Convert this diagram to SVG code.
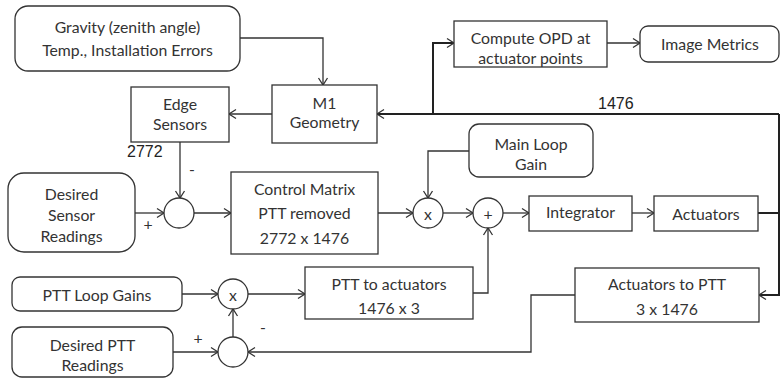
<svg xmlns="http://www.w3.org/2000/svg" width="781" height="379" viewBox="0 0 781 379">
<style>
  .box{fill:#fff;stroke:#333;stroke-width:1.3}
  .t{font-family:Lato,"Liberation Sans",sans-serif;font-size:15.8px;fill:#333;text-anchor:middle;dominant-baseline:central}
  .n{font-family:"Liberation Sans",Arial,sans-serif;font-size:16px;fill:#222}
  .c{fill:none;stroke:#333;stroke-width:1.3;marker-end:url(#a)}
  .ct{fill:none;stroke:#222;stroke-width:2}
  .ctA{fill:none;stroke:#222;stroke-width:2;marker-end:url(#a)}
</style>
<defs>
  <marker id="a" markerUnits="userSpaceOnUse" markerWidth="12" markerHeight="12" refX="9" refY="6" orient="auto">
    <path d="M2,1.5 L9,6 L2,10.5" fill="none" stroke="#333" stroke-width="1.3"/>
  </marker>
</defs>
<rect width="781" height="379" fill="#fff"/>

<g id="connectors">
  <path class="c" d="M240,38 H323 V85"/>
  <path class="c" d="M272,114 H229"/>
  <path class="ct" d="M758,213 H779"/>
  <path class="ctA" d="M779,114 V295 H759"/>
  <path class="ctA" d="M779,114 H377"/>
  <path class="ctA" d="M433,114 V43 H454"/>
  <path class="c" d="M607,43 H640"/>
  <path class="c" d="M180,142 V198"/>
  <path class="c" d="M135,213 H164"/>
  <path class="c" d="M194,213 H231"/>
  <path class="c" d="M378,213 H413"/>
  <path class="c" d="M469,151 H428 V198"/>
  <path class="c" d="M443,213 H473"/>
  <path class="c" d="M503,213 H529"/>
  <path class="c" d="M632,213 H654"/>
  <path class="c" d="M182,294 H218"/>
  <path class="c" d="M248,294 H305"/>
  <path class="c" d="M473,293 H488 V228"/>
  <path class="c" d="M575,295 H531 V352 H248"/>
  <path class="c" d="M173,352 H218"/>
  <path class="c" d="M233,337 V309"/>
  <text class="n" x="127" y="157">2772</text>
  <text class="n" x="598" y="109">1476</text>
  <text class="t" x="192" y="168">-</text>
  <text class="t" x="148" y="223">+</text>
  <text class="t" x="198" y="337">+</text>
  <text class="t" x="263" y="326">-</text>
</g>

<g id="gravity">
  <rect class="box" x="15" y="6" width="225" height="65" rx="13"/>
  <text class="t" x="127.5" y="26">Gravity (zenith angle)</text>
  <text class="t" x="127.5" y="49">Temp., Installation Errors</text>
</g>
<g id="edge-sensors">
  <rect class="box" x="131" y="87" width="98" height="55"/>
  <text class="t" x="180" y="103">Edge</text>
  <text class="t" x="180" y="123">Sensors</text>
</g>
<g id="m1-geometry">
  <rect class="box" x="272" y="85" width="105" height="58"/>
  <text class="t" x="324.5" y="102">M1</text>
  <text class="t" x="324.5" y="121">Geometry</text>
</g>
<g id="compute-opd">
  <rect class="box" x="454" y="21" width="153" height="46"/>
  <text class="t" x="530.5" y="37">Compute OPD at</text>
  <text class="t" x="530.5" y="57">actuator points</text>
</g>
<g id="image-metrics">
  <rect class="box" x="640" y="26" width="139" height="36" rx="8"/>
  <text class="t" x="710" y="43">Image Metrics</text>
</g>
<g id="main-loop-gain">
  <rect class="box" x="469" y="124" width="124" height="53" rx="10"/>
  <text class="t" x="531" y="143">Main Loop</text>
  <text class="t" x="531" y="163">Gain</text>
</g>
<g id="desired-sensor">
  <rect class="box" x="8" y="173" width="127" height="79" rx="16"/>
  <text class="t" x="71.5" y="193">Desired</text>
  <text class="t" x="71.5" y="214">Sensor</text>
  <text class="t" x="71.5" y="235">Readings</text>
</g>
<g id="sum1">
  <circle class="box" cx="179" cy="213" r="15"/>
</g>
<g id="control-matrix">
  <rect class="box" x="231" y="172" width="147" height="82"/>
  <text class="t" x="304.5" y="188">Control Matrix</text>
  <text class="t" x="304.5" y="212">PTT removed</text>
  <text class="t" x="304.5" y="237">2772 x 1476</text>
</g>
<g id="mult1">
  <circle class="box" cx="428" cy="213" r="15"/>
  <text class="t" x="428" y="213">x</text>
</g>
<g id="plus">
  <circle class="box" cx="488" cy="213" r="15"/>
  <text class="t" x="488" y="213">+</text>
</g>
<g id="integrator">
  <rect class="box" x="529" y="196" width="103" height="35"/>
  <text class="t" x="580.5" y="211">Integrator</text>
</g>
<g id="actuators">
  <rect class="box" x="654" y="196" width="104" height="35"/>
  <text class="t" x="706" y="213">Actuators</text>
</g>
<g id="ptt-loop-gains">
  <rect class="box" x="12" y="277" width="170" height="34" rx="8"/>
  <text class="t" x="97" y="294">PTT Loop Gains</text>
</g>
<g id="mult2">
  <circle class="box" cx="233" cy="294" r="15"/>
  <text class="t" x="233" y="294">x</text>
</g>
<g id="ptt-to-actuators">
  <rect class="box" x="305" y="267" width="168" height="52"/>
  <text class="t" x="389" y="283">PTT to actuators</text>
  <text class="t" x="389" y="307">1476 x 3</text>
</g>
<g id="actuators-to-ptt">
  <rect class="box" x="575" y="268" width="184" height="54"/>
  <text class="t" x="667" y="283">Actuators to PTT</text>
  <text class="t" x="667" y="308">3 x 1476</text>
</g>
<g id="desired-ptt">
  <rect class="box" x="12" y="327" width="161" height="50" rx="10"/>
  <text class="t" x="92.5" y="344">Desired PTT</text>
  <text class="t" x="92.5" y="364">Readings</text>
</g>
<g id="sum2">
  <circle class="box" cx="233" cy="352" r="15"/>
</g>
</svg>
